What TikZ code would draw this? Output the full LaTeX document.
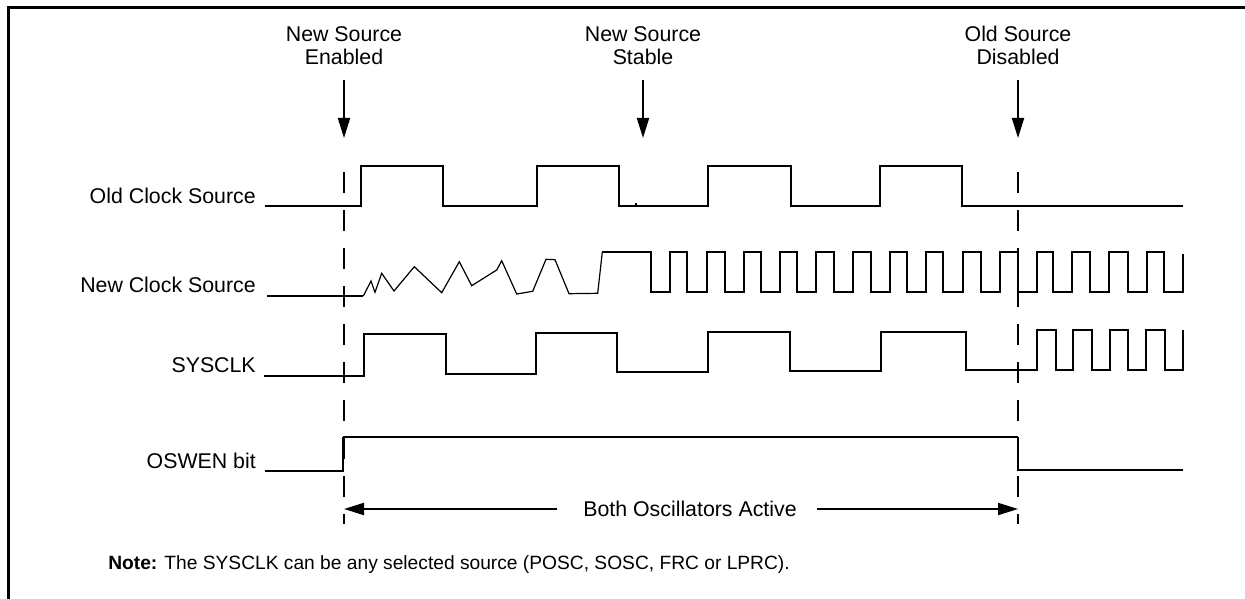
\documentclass[tikz,border=0pt]{standalone}
\usepackage{fontspec}
\setmainfont{Liberation Sans}
\usetikzlibrary{arrows.meta}
\begin{document}
\begin{tikzpicture}[x=0.75pt,y=-0.75pt,
  lbl/.style={font=\fontsize{16}{17.5}\selectfont, inner sep=0pt},
  notelbl/.style={font=\fontsize{14.4}{17}\selectfont, inner sep=0pt},
  wave/.style={line width=1.5pt, line join=miter},
  thinwave/.style={line width=0.9pt, line join=miter},
  guide/.style={line width=1.5pt, dash pattern=on 15.75pt off 12.75pt},
  marker/.style={line width=1.5pt, -{Triangle[length=15pt,width=9pt]}},
]
\useasboundingbox (0,0) rectangle (1245,599);
% frame
\draw[line width=1.9pt] (1246,7.5) -- (8.5,7.5) -- (8.5,600);

% event labels and arrows
\node[lbl, align=center, anchor=base] (en) at (344,64.5) {New Source\\Enabled};
\node[lbl, align=center, anchor=base] (st) at (643,64.5) {New Source\\Stable};
\node[lbl, align=center, anchor=base] (ds) at (1018,64.5) {Old Source\\Disabled};
\coordinate (en1) at (344,80);  \coordinate (en2) at (344,138);
\coordinate (st1) at (643,80);  \coordinate (st2) at (643,138);
\coordinate (ds1) at (1018,80); \coordinate (ds2) at (1018,138);
\draw[marker] (en1) -- (en2);
\draw[marker] (st1) -- (st2);
\draw[marker] (ds1) -- (ds2);

% dashed guides
\coordinate (g1t) at (344,172);  \coordinate (g1b) at (344,524);
\coordinate (g2t) at (1018,172); \coordinate (g2b) at (1018,524);
\draw[guide] (g1t) -- (g1b);
\draw[guide] (g2t) -- (g2b);

% signal labels
\node[lbl, anchor=base east] (lold) at (256,203.3) {Old Clock Source};
\node[lbl, anchor=base east] (lnew) at (256,292) {New Clock Source};
\node[lbl, anchor=base east] (lsys) at (256,372.5) {SYSCLK};
\node[lbl, anchor=base east] (losw) at (256,468) {OSWEN bit};

% Old Clock Source
\draw[wave] (265,206) -- (361,206) |- (443,166) |- (537,206) |- (619,166) |- (708,206)
  |- (791,166) |- (880,206) |- (962,166) |- (1183,206);
\draw[line width=0.9pt] (636,203.3) -- (636,206);

% New Clock Source
\draw[wave] (267,296) -- (363.3,296);
\draw[thinwave] (363.3,296) -- (371,281) -- (375,292.3) -- (381.7,273.3) -- (394,291)
  -- (414.3,266.7) -- (441.7,292.7) -- (459.3,261.7) -- (471.7,285.7) -- (496.7,270)
  -- (501.7,260.7) -- (516.7,294) -- (532.7,291.3) -- (546,259.3) -- (555,259.7)
  -- (569,293.7) -- (597.7,293.3) -- (602.3,252);
\draw[wave] (602.3,252) -- (650.5,252) |- (670,292) |- (687.3,252) |- (706.7,292)
  |- (725,252) |- (744,292) |- (761,252) |- (780,292) |- (796.7,252) |- (816,292)
  |- (834.3,252) |- (852.7,292) |- (871,252) |- (890,292) |- (907,252) |- (925.7,292)
  |- (943.3,252) |- (962.7,292) |- (981,252) |- (1000,292) |- (1018.3,252) |- (1036.7,292)
  |- (1053.3,252) |- (1071.7,292) |- (1090,252) |- (1109.3,292) |- (1127.7,252)
  |- (1146.7,292) |- (1164.3,252) |- (1183,292) -- (1183,254);

% SYSCLK
\draw[wave] (264,376) -- (364,376) |- (446,334) |- (536,374) |- (617,333) |- (708,372)
  |- (790,332) |- (881,371) |- (966,332) |- (1037,370) |- (1056,330) |- (1073,370)
  |- (1092,330) |- (1110,370) |- (1128,330) |- (1146,370) |- (1165,330) |- (1183,370)
  -- (1183,330);

% OSWEN bit
\draw[wave] (265,471) -- (343,471) -- (343,437);
\draw[line width=0.8pt] (343,437) -- (1018,437);
\draw[wave] (1018,437) -- (1018,469.5) -- (1183,469.5);

% both oscillators active
\node[lbl] (both) at (690,509) {Both Oscillators Active};
\coordinate (bl) at (344,509);
\coordinate (br) at (1018,509);
\draw[marker] (both.west) ++(-19.5pt,0) -- (bl);
\draw[marker] (both.east) ++(15pt,0) -- (br);

% note
\node[notelbl, anchor=base west] (note) at (108,569) {\textbf{Note:} The SYSCLK can be any selected source (POSC, SOSC, FRC or LPRC).};
\end{tikzpicture}
\end{document}
